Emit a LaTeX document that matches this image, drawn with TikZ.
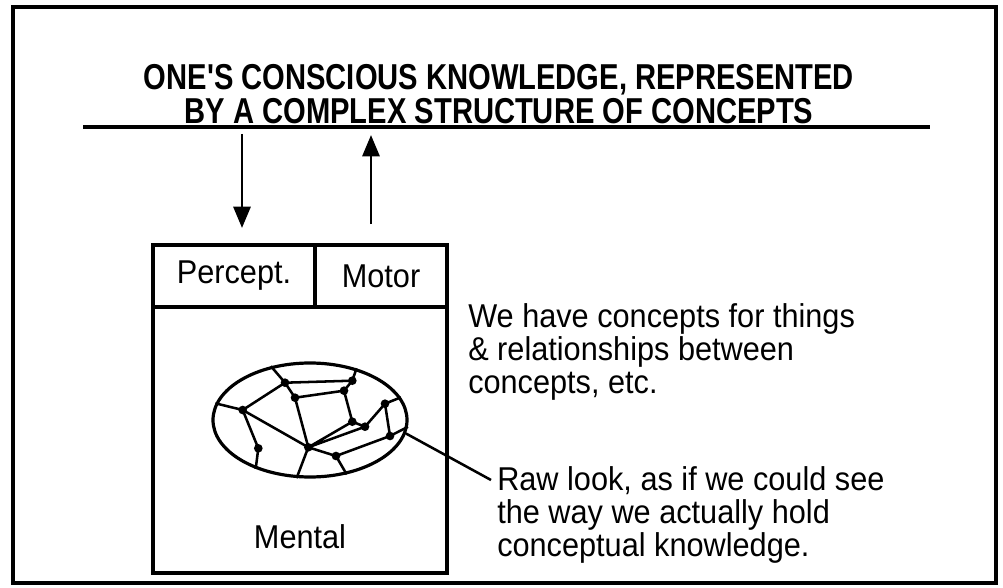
\documentclass[tikz,border=0pt]{standalone}
\usepackage{fontspec}
\setmainfont{Liberation Sans}[FakeStretch=0.93]
\newfontfamily\titlefont{Liberation Sans}[FakeStretch=0.81]
\usetikzlibrary{arrows.meta,shapes.geometric}
\begin{document}
\begin{tikzpicture}[x=0.75pt,y=-0.75pt,
  body/.style={font=\fontsize{24.75}{24.75}\selectfont, inner sep=0pt, align=left},
  cell/.style={draw, line width=2.6pt, inner sep=0pt, font=\fontsize{24.75}{24.75}\selectfont},
  arr/.style={line width=2.2pt, -{Triangle[width=12.75pt,length=16pt]}},
  net/.style={line width=1.9pt},
  dotm/.style={circle, fill, inner sep=0pt, minimum size=6.5pt},
  frame/.style={line width=2.6pt}]
\useasboundingbox (0,0) rectangle (1003,588);
% outer frame
\draw[frame] (13,7) rectangle (996,583);
% title
\node[font=\titlefont\bfseries\fontsize{27}{25.5}\selectfont, align=center, inner sep=0pt] (title) at (499,94)
  {ONE'S CONSCIOUS KNOWLEDGE, REPRESENTED\\BY A COMPLEX STRUCTURE OF CONCEPTS};
\coordinate (ulA) at (83,127);
\coordinate (ulB) at (930,127);
\draw[line width=3.5pt] (ulA) -- (ulB);
% box
\node[cell, minimum width=220.5pt, minimum height=199.5pt] (mental) at (300,440) {};
\node[cell, minimum width=121.5pt, minimum height=46.5pt] (percept) at (234,276) {Percept.};
\node[cell, minimum width=99pt, minimum height=46.5pt] (motor) at (381,276) {Motor};
\node[body] (mentallbl) at (300,537) {Mental};
% arrows
\coordinate (inTop) at (242,134);
\coordinate (inTip) at (242,228);
\coordinate (outBot) at (371,224);
\coordinate (outTip) at (371,135);
\draw[arr] (inTop) -- (inTip);
\draw[arr] (outBot) -- (outTip);
% ellipse network
\node[ellipse, draw, line width=2.4pt, minimum width=145.5pt, minimum height=85.5pt, inner sep=0pt] (ell) at (310,420) {};
\coordinate (A) at (285,382.7);
\coordinate (B) at (352.3,380.7);
\coordinate (C) at (344,390.7);
\coordinate (D) at (295,397.7);
\coordinate (E) at (242.7,410);
\coordinate (F) at (385,403.7);
\coordinate (G) at (352.3,421.7);
\coordinate (H) at (365,426.7);
\coordinate (I) at (390,436);
\coordinate (J) at (258.3,448.3);
\coordinate (K) at (308.3,447.3);
\coordinate (L) at (336,456);
\draw[net] (ell.126) -- (A) -- (B) -- (C) -- (D) -- (A) -- (E) -- (ell.170);
\draw[net] (B) -- (ell.48);
\draw[net] (C) -- (G);
\draw[net] (E) -- (J) -- (ell.222);
\draw[net] (E) -- (K) -- (ell.257);
\draw[net] (D) -- (K);
\draw[net] (K) -- (G) -- (H) -- (K);
\draw[net] (H) -- (F) -- (ell.14);
\draw[net] (F) -- (I) -- (ell.356);
\draw[net] (K) -- (L) -- (I);
\draw[net] (L) -- (ell.304);
\foreach \p in {A,B,C,D,E,F,G,H,I,J,K,L} \node[dotm] at (\p) {};
% texts
\node[body, anchor=base west] (txt1) at (468,393)
  {We have concepts for things\\\& relationships between\\concepts, etc.};
\node[body, anchor=base west] (txt2) at (497,556)
  {Raw look, as if we could see\\the way we actually hold\\conceptual knowledge.};
\coordinate (leadEnd) at (491,480);
\draw[line width=1.9pt] (ell.-8) -- (leadEnd);
\end{tikzpicture}
\end{document}
